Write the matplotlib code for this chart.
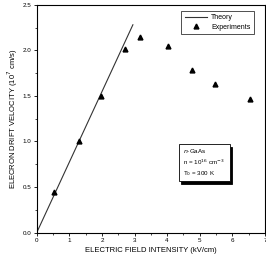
import matplotlib
matplotlib.use("Agg")
import matplotlib.pyplot as plt
from matplotlib.patches import Rectangle
from matplotlib.ticker import MultipleLocator

plt.rcParams['font.family'] = ['Liberation Sans', 'DejaVu Sans']

# theory line (linear, low field mobility)
theory_field = [0.0, 2.95]
theory_velocity = [0.0, 2.28]

# experimental points
exp_field = [0.52, 1.29, 1.98, 2.70, 3.16, 4.03, 4.75, 5.46, 6.53]
exp_velocity = [0.45, 1.00, 1.50, 2.01, 2.15, 2.05, 1.78, 1.63, 1.47]

info_lines = ['$\\it{n}$-GaAs', 'n = 10$^{16}$ cm$^{-3}$', 'T$_0$ = 300 K']

fig = plt.figure(figsize=(2.66, 2.62), dpi=100)
ax = fig.add_axes([0.138, 0.112, 0.858, 0.870])

ax.plot(theory_field, theory_velocity, color='#333333', lw=0.8, label='Theory')
ax.plot(exp_field, exp_velocity, ls='none', marker='^', ms=3.5, color='black',
        label='Experiments')

ax.set_xlim(0, 7)
ax.set_ylim(0, 2.5)
ax.xaxis.set_major_locator(MultipleLocator(1))
ax.xaxis.set_minor_locator(MultipleLocator(0.5))
ax.yaxis.set_major_locator(MultipleLocator(0.5))
ax.yaxis.set_minor_locator(MultipleLocator(0.25))
ax.yaxis.set_major_formatter(plt.FormatStrFormatter('%.1f'))
ax.tick_params(which='major', length=2.5, width=0.6, labelsize=4.5, pad=1.5)
ax.tick_params(which='minor', length=1.5, width=0.5)
for s in ax.spines.values():
    s.set_linewidth(0.8)

ax.set_xlabel('ELECTRIC FIELD INTENSITY (kV/cm)', fontsize=5.5, labelpad=3)
ax.set_ylabel('ELECRON DRIFT VELOCITY (10$^7$ cm/s)', fontsize=5.5, labelpad=2)

leg = ax.legend(loc='upper right', fontsize=5, frameon=True, fancybox=False,
                edgecolor='black', handlelength=3.2, borderpad=0.5,
                labelspacing=0.35, handletextpad=0.6, numpoints=1,
                bbox_to_anchor=(0.968, 0.988))
leg.get_frame().set_linewidth(0.6)

# info box with a drop shadow
bx, by, bw, bh = 0.622, 0.227, 0.223, 0.162
ax.add_patch(Rectangle((bx + 0.01, by - 0.012), bw, bh, transform=ax.transAxes,
                       fc='black', ec='black', lw=0.6, zorder=3))
ax.add_patch(Rectangle((bx, by), bw, bh, transform=ax.transAxes,
                       fc='white', ec='black', lw=0.6, zorder=4))
for i, line in enumerate(info_lines):
    ax.text(bx + 0.02, by + bh - 0.03 - i * 0.05, line, transform=ax.transAxes,
            fontsize=4.5, va='center', ha='left', zorder=5)

fig.savefig('out.png', dpi=100)
